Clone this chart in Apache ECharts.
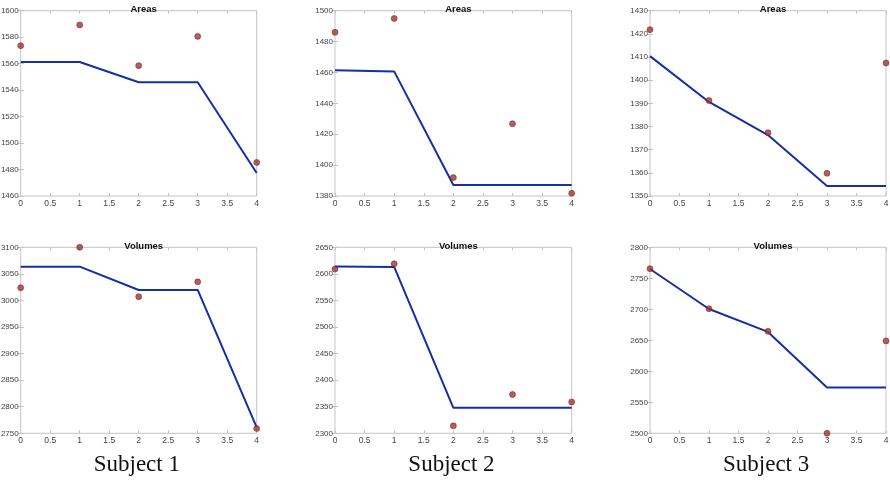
<!DOCTYPE html>
<html>
<head>
<meta charset="utf-8">
<script src="https://cdn.jsdelivr.net/npm/echarts@6/dist/echarts.min.js"></script>
<style>html,body{margin:0;padding:0;background:#fff}#c{width:890px;height:492px}</style>
</head>
<body>
<div id="c"></div>
<script>
// x positions
var xs = [0, 1, 2, 3, 4];
var xTicks = [0, 0.5, 1, 1.5, 2, 2.5, 3, 3.5, 4];
var subjects = ['Subject 1', 'Subject 2', 'Subject 3'];
var rowTitles = ['Areas', 'Volumes'];

// Subject 1
var s1AreaPts = [1573.6, 1589.2, 1558.5, 1580.6, 1485.4];
var s1AreaFit = [1561.2, 1561.2, 1545.9, 1545.9, 1477.4];
var s1VolPts  = [3024, 3100, 3007, 3035, 2759];
var s1VolFit  = [3063.6, 3063.6, 3019.7, 3019.7, 2761];
// Subject 2
var s2AreaPts = [1486, 1495, 1391.9, 1426.8, 1381.7];
var s2AreaFit = [1461.4, 1460.7, 1387.1, 1387.1, 1387.1];
var s2VolPts  = [2609, 2619, 2314, 2373, 2359];
var s2VolFit  = [2614, 2613, 2348, 2348, 2348];
// Subject 3
var s3AreaPts = [1421.8, 1391.2, 1377.3, 1359.8, 1407.4];
var s3AreaFit = [1410.4, 1390.6, 1376.3, 1354.3, 1354.3];
var s3VolPts  = [2765.6, 2701, 2664.5, 2500, 2649];
var s3VolFit  = [2765, 2700.5, 2663.5, 2574, 2574];

// y-axis ranges [min, max, interval]
var yRanges = [
  [[1460, 1600, 20], [2750, 3100, 50]],
  [[1380, 1500, 20], [2300, 2650, 50]],
  [[1350, 1430, 10], [2500, 2800, 50]]
];
var panels = [
  [[s1AreaPts, s1AreaFit], [s1VolPts, s1VolFit]],
  [[s2AreaPts, s2AreaFit], [s2VolPts, s2VolFit]],
  [[s3AreaPts, s3AreaFit], [s3VolPts, s3VolFit]]
];

var colLeft = [20.7, 335, 650];
var colW = [236, 236.7, 236];
var rowTop = [10.7, 247.3];
var rowH = [185.3, 186];

var grids = [], xAxes = [], yAxes = [], series = [], titles = [], graphics = [];
var lblColor = '#444';
var plain = function (v) { return String(v); };
var gi = 0;
for (var c = 0; c < 3; c++) {
  for (var r = 0; r < 2; r++) {
    grids.push({left: colLeft[c], top: rowTop[r], width: colW[c], height: rowH[r],
      containLabel: false, outerBoundsMode: 'none',
      show: true, borderColor: '#c4c4c4', borderWidth: 1, backgroundColor: '#fff'});
    var rg = yRanges[c][r];
    xAxes.push({type: 'value', gridIndex: gi, min: 0, max: 4, interval: 0.5, position: 'bottom',
      axisLine: {show: false}, splitLine: {show: false},
      axisTick: {show: true, inside: true, length: 3, lineStyle: {color: '#c4c4c4'}},
      axisLabel: {show: true, color: lblColor, fontSize: 8.5, margin: 3, fontFamily: 'Liberation Sans',
        formatter: plain}});
    xAxes.push({type: 'value', gridIndex: gi, min: 0, max: 4, interval: 0.5, position: 'top',
      axisLine: {show: false}, splitLine: {show: false}, axisLabel: {show: false},
      axisTick: {show: true, inside: true, length: 3, lineStyle: {color: '#c4c4c4'}}});
    yAxes.push({type: 'value', gridIndex: gi, min: rg[0], max: rg[1], interval: rg[2], position: 'left',
      axisLine: {show: false}, splitLine: {show: false},
      axisTick: {show: true, inside: true, length: 3, lineStyle: {color: '#c4c4c4'}},
      axisLabel: {show: true, color: lblColor, fontSize: 8, margin: 2, fontFamily: 'Liberation Sans',
        formatter: plain}});
    yAxes.push({type: 'value', gridIndex: gi, min: rg[0], max: rg[1], interval: rg[2], position: 'right',
      axisLine: {show: false}, splitLine: {show: false}, axisLabel: {show: false},
      axisTick: {show: true, inside: true, length: 3, lineStyle: {color: '#c4c4c4'}}});
    var pts = panels[c][r][0], fit = panels[c][r][1];
    series.push({type: 'line', xAxisIndex: gi * 2, yAxisIndex: gi * 2,
      data: xs.map(function (x, i) { return [x, fit[i]]; }),
      showSymbol: false, symbol: 'none', lineStyle: {color: '#1430a4', width: 2}, z: 2, animation: false});
    series.push({type: 'scatter', xAxisIndex: gi * 2, yAxisIndex: gi * 2,
      data: xs.map(function (x, i) { return [x, pts[i]]; }),
      symbol: 'circle', symbolSize: 6,
      itemStyle: {color: '#a3352e', borderColor: '#6a1c18', borderWidth: 0.6}, z: 3, animation: false});
    titles.push({text: rowTitles[r], left: colLeft[c] + colW[c] / 2, top: rowTop[r] - 11,
      textAlign: 'center',
      textStyle: {fontSize: 9.5, fontWeight: 'bold', color: '#111', fontFamily: 'Liberation Sans'}});
    gi++;
  }
  graphics.push({type: 'text', left: colLeft[c] + colW[c] / 2 - 45, top: 453,
    style: {text: subjects[c], font: '23px "Liberation Serif"', fill: '#111'}});
}

var chart = echarts.init(document.getElementById('c'), null, {renderer: 'canvas'});
chart.setOption({
  animation: false,
  title: titles,
  grid: grids,
  xAxis: xAxes,
  yAxis: yAxes,
  series: series,
  graphic: graphics
});
</script>
</body>
</html>
